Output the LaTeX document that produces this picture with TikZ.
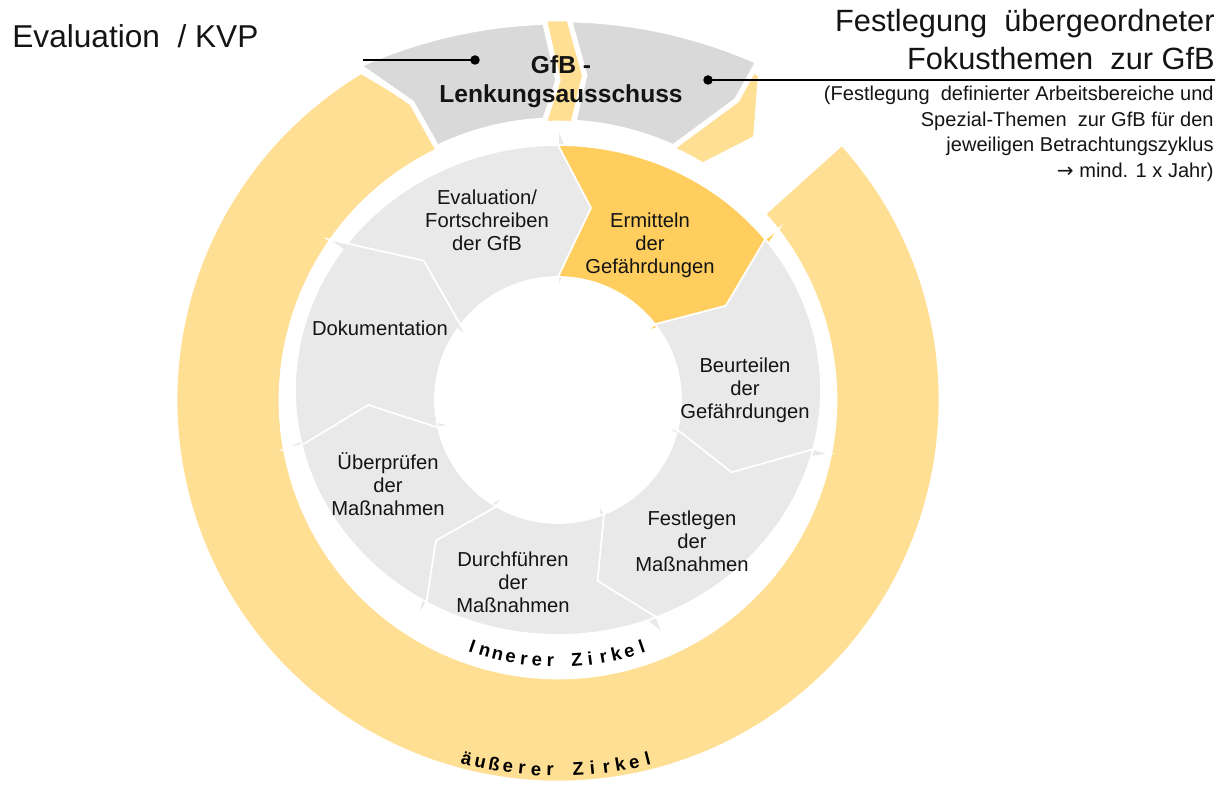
\documentclass[tikz,border=0pt]{standalone}
\usepackage{fontspec}
\setmainfont{Liberation Sans}
\newfontfamily\arrowfont{DejaVu Sans}
\usepackage{tikz}

\definecolor{ringyellow}{RGB}{255,223,148}
\definecolor{boxgray}{RGB}{217,217,217}
\definecolor{seggray}{RGB}{233,233,233}
\definecolor{segorange}{RGB}{255,206,94}
\definecolor{txt}{RGB}{20,20,20}

\begin{document}
\begin{tikzpicture}[
        x=0.02cm, y=-0.02cm,
        ringpart/.style={fill=ringyellow, draw=white, line width=1.5pt},
        boxpart/.style={fill=boxgray, draw=white, line width=3pt},
        segment/.style={draw=white, line width=1pt},
        seglabel/.style={align=center, text=txt, font=\fontsize{11.5}{13}\selectfont},
        ringletter/.style={anchor=base, inner sep=0pt, text=black, font=\bfseries\fontsize{10.5}{11}\selectfont},
        dot/.style={circle, fill=black, inner sep=0pt, minimum size=0.19cm}
    ]
    \useasboundingbox (0,0) rectangle (1225,793);

    % outer circle and the GfB box on top of it
    \begin{scope}[shift={(558,400)}]
        \path[ringpart] (-42:278) -- (-42:382) arc[start angle=-42, end angle=239, radius=382]
            -- (243.8:331) -- (244.4:278) arc[start angle=244.4, end angle=-42, radius=278] -- cycle;
        \path[ringpart] (-75:382) arc[start angle=-75, end angle=-58.2, radius=382]
            -- (-53.2:328) -- (-58.5:277) arc[start angle=-58.5, end angle=-75, radius=277] -- cycle;
        \path[ringpart] (-96:278) -- (-96:380) arc[start angle=-96, end angle=-84, radius=380]
            -- (-84:278) arc[start angle=-84, end angle=-96, radius=278] -- cycle;
        \path[boxpart] (-116.2:331) -- (-115.6:280) arc[start angle=-115.6, end angle=-92.7, radius=280]
            -- (-90:320) -- (-92:378) arc[start angle=-91.7, end angle=-114.4, radius=487] -- cycle;
        \path[boxpart] (-85.3:326) -- (-86.8:278) arc[start angle=-86.8, end angle=-65.5, radius=278]
            -- (-59.2:349) -- (-59.4:393) arc[start angle=-66, end angle=-88.9, radius=487] -- cycle;
        % lettering on the rings
        \foreach \ch [count=\i, evaluate=\i as \ang using {109.2-2.92*(\i-1)}] in {I,n,n,e,r,e,r,,Z,i,r,k,e,l}
            \node[ringletter, rotate=90-\ang] at (\ang:267) {\ch};
        \foreach \ch [count=\i, evaluate=\i as \ang using {104.3-2.18*(\i-1)}] in {ä,u,ß,e,r,e,r,,Z,i,r,k,e,l}
            \node[ringletter, rotate=90-\ang] at (\ang:376) {\ch};
    \end{scope}

    % inner cycle, seven arrow segments
    \begin{scope}[shift={(558,390)}]
        \foreach \a/\b/\col in {-145/-90/seggray, -90/-38/segorange, -38/14/seggray, 14/68/seggray,
                                68/120/seggray, 120/167/seggray, 167/215/seggray}
            \path[segment, fill=\col]
                ([shift={(0,10)}]\a:123) -- ([shift={(0,5)}]\a+10:190) -- (\a:263 and 245)
                arc[start angle=\a, end angle=\b, x radius=263, y radius=245]
                -- (\b:281 and 263) -- ([shift={(0,5)}]\b+10:190) -- ([shift={(0,10)}]\b:111)
                -- ([shift={(0,10)}]\b:123) arc[start angle=\b, end angle=\a, radius=123] -- cycle;
    \end{scope}

    \node[seglabel] (eval) at (487,220) {Evaluation/\\Fortschreiben\\der GfB};
    \node[seglabel] (ermitteln) at (650,245) {Ermitteln\\der\\Gefährdungen};
    \node[seglabel] (beurteilen) at (745,390) {Beurteilen\\der\\Gefährdungen};
    \node[seglabel] (festlegen) at (692,541) {Festlegen\\der\\Maßnahmen};
    \node[seglabel] (durchfuehren) at (513,582) {Durchführen\\der\\Maßnahmen};
    \node[seglabel] (ueberpruefen) at (388,484) {Überprüfen\\der\\Maßnahmen};
    \node[seglabel] (doku) at (380,328) {Dokumentation};

    \node[anchor=north, align=center, inner sep=0pt, text=txt, font=\bfseries\fontsize{14}{16.5}\selectfont]
        (gfb) at (561,55) {GfB -\\Lenkungsausschuss};

    % headings and callouts
    \node[anchor=base west, inner sep=0pt, text=txt, font=\fontsize{18}{20}\selectfont]
        (kvp) at (12,48) {Evaluation~ / KVP};
    \node[anchor=north east, align=right, inner sep=0pt, text=txt, font=\fontsize{17.5}{21.5}\selectfont]
        (fokus) at (1215,9) {Festlegung~ übergeordneter\\Fokusthemen~ zur GfB};
    \node[anchor=north east, align=right, inner sep=0pt, text=txt, font=\fontsize{11.4}{14.5}\selectfont]
        (fokusinfo) at (1214,86) {(Festlegung~ definierter Arbeitsbereiche und\\Spezial-Themen~ zur GfB für den\\jeweiligen Betrachtungszyklus\\{\arrowfont →} mind. 1 x Jahr)};

    \node[dot] (dotL) at (475,60) {};
    \coordinate (endL) at (363,60);
    \node[dot] (dotR) at (708,80) {};
    \coordinate (endR) at (1215,80);
    \draw[line width=0.8pt] (dotL.center) -- (endL);
    \draw[line width=0.8pt] (dotR.center) -- (endR);
\end{tikzpicture}
\end{document}
